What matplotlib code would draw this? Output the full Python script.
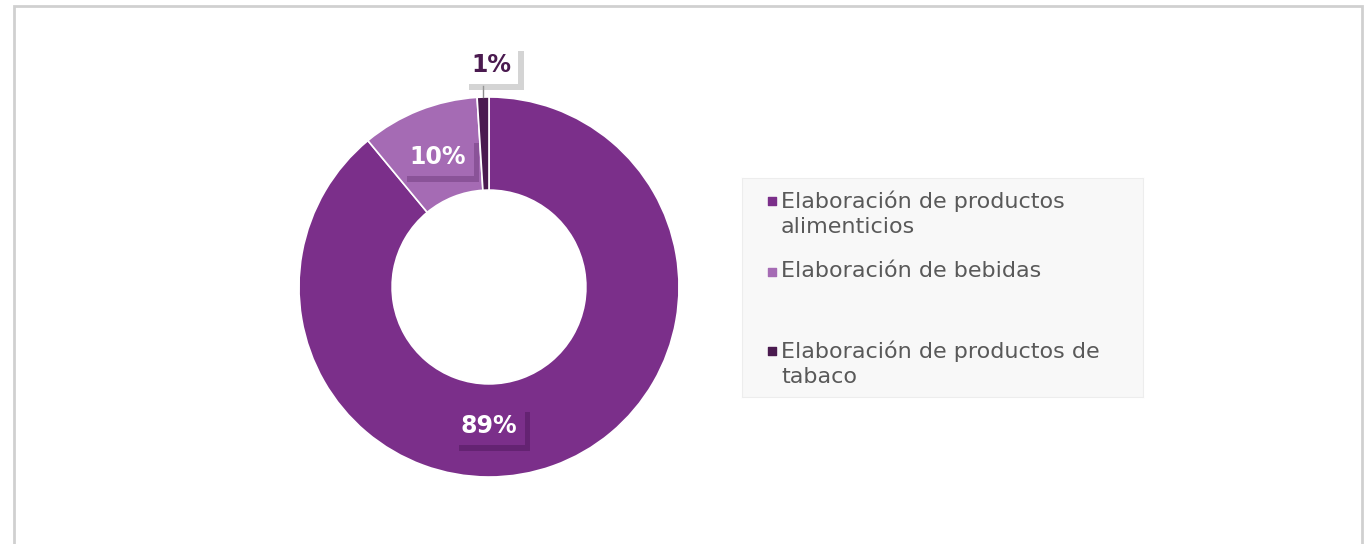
import matplotlib
matplotlib.use("Agg")
import matplotlib.pyplot as plt
import matplotlib.patheffects as pe
from matplotlib.patches import Rectangle
import numpy as np

# data
categories = ["Elaboración de productos\nalimenticios",
              "Elaboración de bebidas",
              "Elaboración de productos de\ntabaco"]
shares = [89, 10, 1]
labels = ["89%", "10%", "1%"]
colors = ["#7B2F8A", "#A56BB4", "#4A1A4F"]

W, H = 1365, 544
fig = plt.figure(figsize=(W / 100, H / 100), dpi=100)
fig.patch.set_facecolor("white")

# outer frame (bottom edge runs off the image)
fig.patches.append(Rectangle((14 / W, -0.05), (1362 - 14) / W, 1.05 - 6 / H,
                             transform=fig.transFigure, fill=False,
                             edgecolor="#D0D0D0", linewidth=2))

# donut, centre at (489, 287) px, radius 190 px
cx, cy, R = 489, 287, 190
ax = fig.add_axes([(cx - R) / W, (H - cy - R) / H, 2 * R / W, 2 * R / H])
wedges, _ = ax.pie(shares, colors=colors, startangle=90, counterclock=False,
                   radius=1.0, wedgeprops=dict(width=0.49, edgecolor="white",
                                               linewidth=1.2))
ax.set_xlim(-1, 1)
ax.set_ylim(-1, 1)
ax.set_aspect("auto")
ax.axis("off")

# label positions (axes data units) and styles
label_pos = [(0.0, -0.73), (-0.27, 0.685), (0.01, 1.17)]
box_face = ["#7B2F8A", "#A56BB4", "white"]
text_col = ["white", "white", "#4A1A4F"]
shadow_col = ["#4A1656", "#6A3678", "#A0A0A0"]

for i, (lab, (lx, ly)) in enumerate(zip(labels, label_pos)):
    t = ax.text(lx, ly, lab, ha="center", va="center", fontsize=17,
                fontweight="bold", color=text_col[i], clip_on=False, zorder=5,
                bbox=dict(boxstyle="square,pad=0.32", facecolor=box_face[i],
                          edgecolor="none"))
    t.get_bbox_patch().set_path_effects(
        [pe.withSimplePatchShadow(offset=(4, -4), shadow_rgbFace=shadow_col[i],
                                  alpha=0.45), pe.Normal()])

# leader line for the smallest slice (vertical, down to the wedge)
w = wedges[2]
mid = np.deg2rad((w.theta1 + w.theta2) / 2)
ax.plot([np.cos(mid), np.cos(mid)], [label_pos[2][1] - 0.11, np.sin(mid)],
        color="#8C8C8C", linewidth=1, clip_on=False, zorder=4)

# legend box
lx0, ly0, lx1, ly1 = 742, 178, 1143, 397
lax = fig.add_axes([lx0 / W, (H - ly1) / H, (lx1 - lx0) / W, (ly1 - ly0) / H])
lax.set_xlim(lx0, lx1)
lax.set_ylim(ly1, ly0)
lax.set_facecolor("#F8F8F8")
for s in lax.spines.values():
    s.set_color("#EDEDED")
lax.set_xticks([])
lax.set_yticks([])

row_y = [200, 271, 350]
for cat, col, y in zip(categories, colors, row_y):
    lax.scatter([772], [y + 1], marker="s", s=34, color=col)
    lax.text(781, y - 10, cat, ha="left", va="top", fontsize=16,
             color="#595959", linespacing=1.36)

fig.savefig("out.png", dpi=100)
